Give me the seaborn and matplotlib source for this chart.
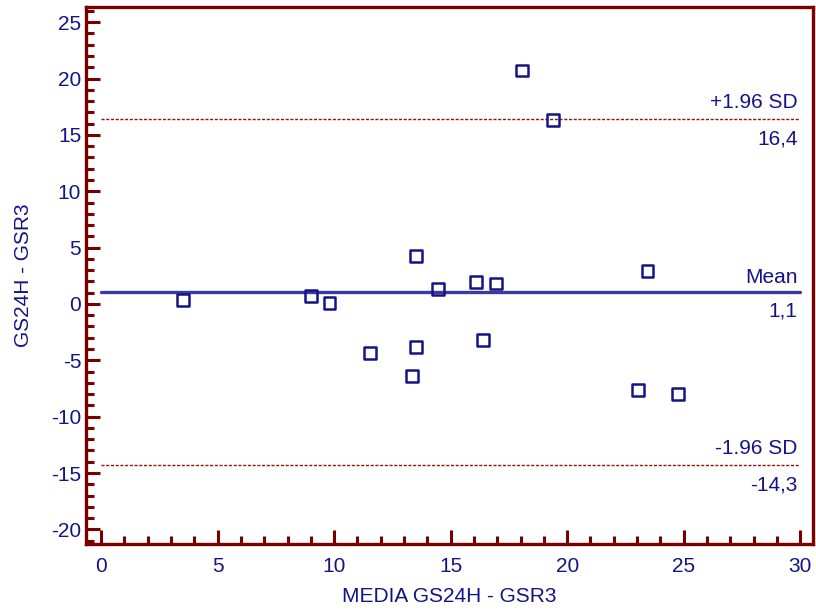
import numpy as np
import pandas as pd
import seaborn as sns
import matplotlib
matplotlib.use("Agg")
import matplotlib.pyplot as plt
from matplotlib.ticker import MultipleLocator

# Bland-Altman data: mean of the two methods vs their difference
media = [3.5, 9.0, 9.8, 11.55, 13.35, 13.5, 13.5, 14.45, 16.1, 16.4, 16.95,
         18.05, 19.4, 23.05, 23.45, 24.75]
diff = [0.35, 0.7, 0.1, -4.35, -6.4, 4.25, -3.8, 1.35, 1.95, -3.2, 1.8,
        20.7, 16.35, -7.65, 2.95, -8.0]

mean_diff = 1.1
upper_loa = 16.4
lower_loa = -14.3
mean_label = "1,1"
upper_label = "16,4"
lower_label = "-14,3"

df = pd.DataFrame({"media": media, "diff": diff})

NAVY = "#141487"
MAROON = "#7a0000"
DASH_COL = "#9a1010"
MEAN_COL = "#3a3aa2"

sns.set_theme(style="white")
plt.rcParams["font.family"] = ["Liberation Sans", "DejaVu Sans"]
plt.rcParams["axes.unicode_minus"] = False

fig = plt.figure(figsize=(8.16, 6.12), dpi=100)
ax = fig.add_axes([86 / 816, 68 / 612, (813 - 86) / 816, (544 - 7) / 612])

sns.scatterplot(data=df, x="media", y="diff", ax=ax, marker="s", s=70,
                facecolor="none", edgecolor=NAVY, linewidth=1.8, zorder=3)

x0, x1 = 0, 30
ax.plot([x0, x1], [mean_diff, mean_diff], color=MEAN_COL, lw=2.4, zorder=2)
for lim in (upper_loa, lower_loa):
    ax.plot([x0, x1], [lim, lim], color=DASH_COL, lw=1.0,
            ls=(0, (2.2, 1.2)), zorder=2)

fs = 15
def line_labels(y, top, bottom, up=5.0, down=7.5):
    ax.annotate(top, (x1, y), xytext=(-2, up), textcoords="offset points",
                ha="right", va="bottom", color=NAVY, fontsize=fs)
    ax.annotate(bottom, (x1, y), xytext=(-2, -down), textcoords="offset points",
                ha="right", va="top", color=NAVY, fontsize=fs)

line_labels(upper_loa, "+1.96 SD", upper_label)
line_labels(mean_diff, "Mean", mean_label, up=3.0, down=7)
line_labels(lower_loa, "-1.96 SD", lower_label)

ax.set_xlim(-0.65, 30.55)
ax.set_ylim(-21.3, 26.35)
ax.xaxis.set_major_locator(MultipleLocator(5))
ax.xaxis.set_minor_locator(MultipleLocator(1))
ax.yaxis.set_major_locator(MultipleLocator(5))
ax.yaxis.set_minor_locator(MultipleLocator(1))

ax.tick_params(axis="both", which="both", direction="in", color=MAROON,
               labelcolor=NAVY, labelsize=fs, width=2.2)
ax.tick_params(axis="both", which="major", length=10)
ax.tick_params(axis="both", which="minor", length=6)
ax.tick_params(axis="x", which="major", pad=9, bottom=True, top=False)
ax.tick_params(axis="x", which="minor", bottom=True, top=False)
ax.tick_params(axis="y", which="both", left=True, right=False)
ax.tick_params(axis="y", which="major", pad=3.5)

for sp in ax.spines.values():
    sp.set_color(MAROON)
    sp.set_linewidth(2.4)
    sp.set_visible(True)

ax.set_xlabel("MEDIA GS24H - GSR3", color=NAVY, fontsize=fs, labelpad=8)
ax.set_ylabel("GS24H - GSR3", color=NAVY, fontsize=fs, labelpad=13)
ax.grid(False)

fig.savefig("out.png", dpi=100, facecolor="white")
